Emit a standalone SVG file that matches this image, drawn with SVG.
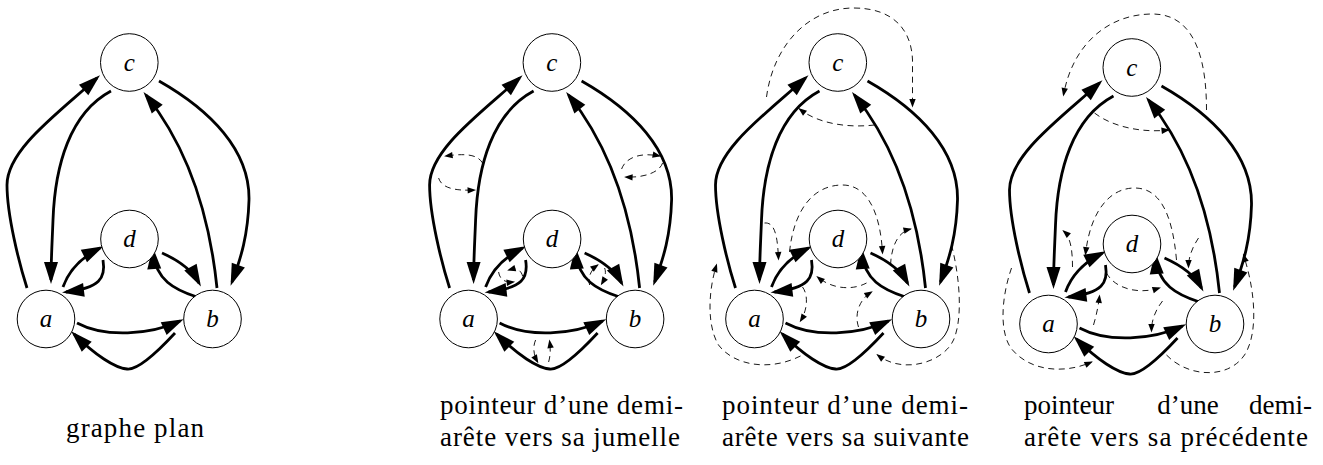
<svg xmlns="http://www.w3.org/2000/svg" xmlns:xlink="http://www.w3.org/1999/xlink" width="1323" height="465" viewBox="0 0 1323 465">
<style>
.node circle{fill:#fff;stroke:#000;stroke-width:1}
.node text{font-family:"Liberation Serif","Times New Roman",serif;font-style:italic;font-size:25px;text-anchor:middle}
.e{fill:none;stroke:#000;stroke-width:2.8;marker-end:url(#big)}
.h{fill:none;stroke:#000;stroke-width:0.9;stroke-dasharray:6 4.5;marker-end:url(#small)}
.cap{font-family:"Liberation Serif","Times New Roman",serif;font-size:27px;fill:#000}
</style>
<defs>
<marker id="big" markerUnits="userSpaceOnUse" markerWidth="24" markerHeight="16" refX="18" refY="7.5" orient="auto" overflow="visible"><path d="M0,0.5 L22,7.5 L0,14.5 z" fill="#000" stroke="none"/></marker>
<marker id="small" markerUnits="userSpaceOnUse" markerWidth="10" markerHeight="7" refX="7" refY="3.2" orient="auto" overflow="visible"><path d="M0,0 L8.5,3.2 L0,6.4 z" fill="#000" stroke="none"/></marker>
<g id="solid">
<path class="e" d="M27,288 C19,263 7,215 7,185 C7,150 57,114 97,78"/>
<path class="e" d="M111,91 C70,113 55,165 53,220 C52,245 51,262 51,280"/>
<path class="e" d="M217,288 C210,220 190,150 146,95"/>
<path class="e" d="M159,81 C210,110 250,150 249,200 C248,235 241,258 232,282"/>
<path class="e" d="M63,287 C68,273 80,258 100,248"/>
<path class="e" d="M103,260 C106,278 100,288 66,292"/>
<path class="e" d="M162,253 C180,261 192,270 199,283"/>
<path class="e" d="M197,297 C175,290 155,280 153,251"/>
<path class="e" d="M77,323 C105,338 150,335 180,321"/>
<path class="e" d="M175,333 C150,360 135,370 127,369 C115,368 95,355 74,334"/>
</g>
</defs>

<g id="panel1">
<g id="p1-connectors"><use href="#solid"/></g>
<g id="p1-c" class="node"><circle cx="129.3" cy="62.5" r="28.8"/><text x="129.3" y="70.5">c</text></g>
<g id="p1-d" class="node"><circle cx="129.5" cy="239" r="28.8"/><text x="129.5" y="247">d</text></g>
<g id="p1-a" class="node"><circle cx="46" cy="319" r="28.8"/><text x="46" y="327">a</text></g>
<g id="p1-b" class="node"><circle cx="212.5" cy="319" r="28.8"/><text x="212.5" y="327">b</text></g>
</g>

<g id="panel2" transform="translate(422.6,0)">
<g id="p2-connectors"><use href="#solid"/>
<path class="h" d="M60,163 C55,155 45,153 23,156"/>
<path class="h" d="M16,178 C19,188 32,191 52,190"/>
<path class="h" d="M199,169 C203,158 217,152 237,156"/>
<path class="h" d="M240,163 C237,172 222,178 203,177"/>
<path class="h" d="M100,276 C98,269 93,268 86,270"/>
<path class="h" d="M76,272 C77,279 82,283 91,282"/>
<path class="h" d="M167,285 C165,278 168,270 175,265"/>
<path class="h" d="M182,268 C184,273 182,279 179,284"/>
<path class="h" d="M126,362 C128,355 128,348 127,341"/>
<path class="h" d="M113,340 C110,347 111,355 115,362"/>
</g>
<g id="p2-c" class="node"><circle cx="129.3" cy="62.5" r="28.8"/><text x="129.3" y="70.5">c</text></g>
<g id="p2-d" class="node"><circle cx="129.5" cy="239" r="28.8"/><text x="129.5" y="247">d</text></g>
<g id="p2-a" class="node"><circle cx="46" cy="319" r="28.8"/><text x="46" y="327">a</text></g>
<g id="p2-b" class="node"><circle cx="212.5" cy="319" r="28.8"/><text x="212.5" y="327">b</text></g>
</g>

<g id="panel3" transform="translate(708.5,0)">
<g id="p3-connectors"><use href="#solid"/>
<path class="h" d="M58,97 C65,45 100,8 145,8 C185,8 203,30 204,60 L204,106"/>
<path class="h" d="M166,125 C140,128 110,124 91,109"/>
<path class="h" d="M81,252 C86,205 108,185 134,185 C160,185 172,215 174,253"/>
<path class="h" d="M56,223 C66,222 69,235 70,259"/>
<path class="h" d="M92,356 C60,372 25,365 10,345 C-2,325 0,290 8,265"/>
<path class="h" d="M158,283 C145,290 125,290 109,277"/>
<path class="h" d="M94,287 C100,295 99,310 92,321"/>
<path class="h" d="M150,327 C146,315 150,300 163,292"/>
<path class="h" d="M182,265 C183,245 190,232 202,229"/>
<path class="h" d="M243,245 C252,280 254,320 245,340 C235,362 195,375 169,355"/>
</g>
<g id="p3-c" class="node"><circle cx="129.3" cy="62.5" r="28.8"/><text x="129.3" y="70.5">c</text></g>
<g id="p3-d" class="node"><circle cx="129.5" cy="239" r="28.8"/><text x="129.5" y="247">d</text></g>
<g id="p3-a" class="node"><circle cx="46" cy="319" r="28.8"/><text x="46" y="327">a</text></g>
<g id="p3-b" class="node"><circle cx="212.5" cy="319" r="28.8"/><text x="212.5" y="327">b</text></g>
</g>

<g id="panel4" transform="translate(1002.5,5)">
<g id="p4-connectors"><use href="#solid"/>
<path class="h" d="M204,105 C204,60 195,9 150,9 C105,9 70,40 61,90"/>
<path class="h" d="M92,108 C110,122 140,128 166,125"/>
<path class="h" d="M174,255 C170,210 158,183 132,183 C108,183 88,205 83,249"/>
<path class="h" d="M70,262 C70,245 68,232 61,226"/>
<path class="h" d="M9,263 C-2,295 -3,330 10,345 C30,368 65,368 89,357"/>
<path class="h" d="M104,268 C112,283 135,290 157,283"/>
<path class="h" d="M91,320 C94,310 96,300 97,291"/>
<path class="h" d="M160,296 C153,305 149,315 149,326"/>
<path class="h" d="M196,233 C190,242 186,252 186,262"/>
<path class="h" d="M164,350 C185,372 225,375 242,350 C255,330 254,290 241,250"/>
</g>
<g id="p4-c" class="node"><circle cx="129.3" cy="62.5" r="28.8"/><text x="129.3" y="70.5">c</text></g>
<g id="p4-d" class="node"><circle cx="129.5" cy="239" r="28.8"/><text x="129.5" y="247">d</text></g>
<g id="p4-a" class="node"><circle cx="46" cy="319" r="28.8"/><text x="46" y="327">a</text></g>
<g id="p4-b" class="node"><circle cx="212.5" cy="319" r="28.8"/><text x="212.5" y="327">b</text></g>
</g>

<g id="captions" class="cap">
<text x="66" y="437" textLength="138" lengthAdjust="spacing">graphe plan</text>
<text x="440" y="414" textLength="243" lengthAdjust="spacing">pointeur d’une demi-</text>
<text x="440" y="446" textLength="240" lengthAdjust="spacing">arête vers sa jumelle</text>
<text x="722" y="414" textLength="246" lengthAdjust="spacing">pointeur d’une demi-</text>
<text x="722" y="446" textLength="247" lengthAdjust="spacing">arête vers sa suivante</text>
<text x="1024" y="414">pointeur</text>
<text x="1188" y="414" text-anchor="middle">d’une</text>
<text x="1312" y="414" text-anchor="end">demi-</text>
<text x="1024" y="446" textLength="284" lengthAdjust="spacing">arête vers sa précédente</text>
</g>
</svg>
